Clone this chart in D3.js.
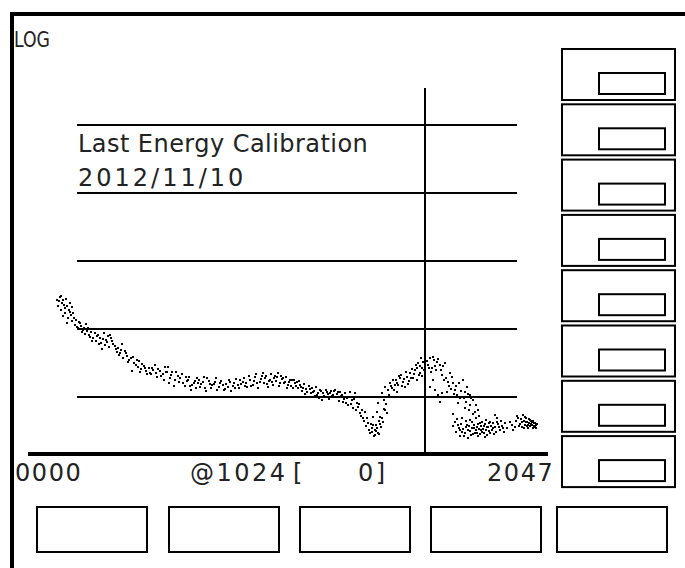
<!DOCTYPE html>
<html>
<head>
<meta charset="utf-8">
<script src="https://cdn.jsdelivr.net/npm/d3@7"></script>
<style>
  html, body { margin: 0; padding: 0; background: #fff; }
  svg { display: block; }
  text { font-family: "DejaVu Sans", Verdana, sans-serif; fill: #222; }
</style>
</head>
<body>
<svg id="screen" width="685" height="568"></svg>
<script>
// Spectrum: channel numbers and counts per dot
const channels = [
  75, 83, 88, 77, 93, 98, 108, 113, 85, 95, 90, 103, 108, 113, 101, 121, 119, 129, 134, 142,
  150, 147, 155, 160, 165, 173, 178, 186, 183, 191, 196, 201, 206, 211, 217,
  224, 232, 230, 237, 242, 250, 255, 258, 266, 273, 281, 284, 268, 289, 294, 302, 307, 315, 320,
  328, 333, 340, 348, 353, 358,
  361, 366, 371, 379, 387, 392, 400, 407, 413, 418, 423, 431, 436, 438, 444, 451, 456, 462, 469,
  475, 482, 487, 495, 503, 508, 516, 521, 529, 534, 542, 547, 554, 560, 565, 573, 580, 585, 591,
  598, 603, 611, 616, 619, 624, 629, 637, 642, 650, 655, 658, 663, 671, 676, 681, 683, 689,
  694, 696, 701, 707, 709, 714, 720, 722, 727, 735, 740, 745, 753, 758, 761, 766, 771, 779, 784,
  792, 797, 805, 810, 812, 818, 823, 825, 830, 836, 838, 843, 848, 851,
  856, 861, 864, 869, 872, 877, 879, 882, 887, 890, 892, 895, 897, 900, 903, 905, 908, 910, 916,
  921, 926, 903, 913, 918, 921, 928,
  934, 939, 941, 947, 952, 952, 957, 959, 965, 967, 972, 975, 977, 983, 985, 990, 993, 998, 1001,
  1003, 1006, 1008, 1011, 1014, 1016, 1019,
  1049, 1066, 1082, 1099, 1115, 1124, 1149, 1165, 1190, 1182, 1066, 1091, 1107, 1132, 1149, 1165,
  1207, 1224, 1249, 1257, 1274, 1249, 1290, 1307, 1340, 1357, 1373, 1398, 1298, 1315, 1357, 1398,
  1423, 1440, 1465,
  1257, 1274, 1298, 1315, 1332, 1332, 1348, 1365, 1373, 1382, 1398, 1407, 1415, 1432, 1440, 1448,
  1456, 1465, 1481, 1490, 1498, 1498, 1515, 1523, 1531, 1540, 1540, 1556, 1565, 1573, 1590, 1598,
  1606, 1623, 1631, 1648, 1664, 1681, 1689, 1706,
  1731, 1756, 1772, 1789, 1797, 1814, 1831, 1839, 1847, 1856, 1864, 1872, 1880, 1889, 1897, 1905,
  1914, 1922, 1930, 1939, 1947, 1955,
  // second pass over the same channels
  80, 85, 90, 95, 101, 106, 111, 116, 124, 126, 132, 137, 139, 144, 152, 157, 162, 168, 175, 181,
  188, 193, 199, 204, 209, 214, 219, 227, 235, 240, 245, 253, 260, 271, 279, 286, 291, 299, 304,
  312, 317, 322, 330, 335,
  343, 351, 356, 364, 369, 377, 382, 389, 397, 405, 410, 415, 420, 428, 433, 441, 446, 454, 459,
  467, 472, 480, 485, 493, 498, 506, 511, 519, 524, 531, 536, 544, 549, 557, 562, 570, 575, 583,
  588, 593, 601, 606, 609, 614, 622, 627, 632, 634, 640, 645, 647, 652, 660, 665, 668, 673, 678,
  686, 691, 699,
  704, 712, 717, 725, 730, 732, 738, 743, 748, 750, 756, 763, 769, 774, 776, 781, 787, 789, 794,
  800, 802, 807, 815, 820, 828, 833, 841, 846, 854,
  859, 866, 874, 884, 887, 890, 895, 897, 900, 905, 908, 913, 918, 923, 926, 931, 936, 944, 949,
  954, 962, 970, 980, 988, 996, 1003, 1011, 1016, 1021,
  1041, 1057, 1074, 1091, 1107, 1132, 1157, 1174, 1199, 1215, 1232, 1240, 1265, 1282, 1323, 1348,
  1365, 1382, 1390, 1407, 1423, 1448, 1473,
  1257, 1282, 1290, 1307, 1315, 1323, 1340, 1357, 1365, 1382, 1390, 1398, 1415, 1423, 1432, 1448,
  1456, 1465, 1473, 1481, 1490, 1506, 1515, 1523, 1531, 1548, 1556, 1565, 1581, 1590, 1606, 1615,
  1623, 1640, 1656, 1673,
  1748, 1781, 1806, 1822, 1831, 1847, 1856, 1864, 1872, 1880, 1889, 1897, 1905, 1914, 1922, 1930,
  1939, 1947
];
const counts = [
  2670, 2955, 2412, 2179, 2254, 2762, 2412, 2107, 1904, 1720, 1554, 1452, 1779, 1312, 1226, 1146, 1452, 1035, 1226, 968,
  1185, 844, 1035, 763, 666, 873, 789, 737, 602, 508, 873, 689, 789, 816, 666,
  562, 526, 459, 444, 602, 475, 401, 327, 375, 316, 350, 276, 241, 233, 306, 267, 218, 226, 267,
  296, 197, 241, 218, 276, 233,
  276, 191, 233, 178, 204, 191, 161, 197, 178, 145, 150, 172, 191, 161, 140, 166, 136, 191, 155,
  150, 166, 127, 161, 150, 131, 140, 166, 145, 136, 150, 178, 166, 145, 140, 178, 150, 197, 161,
  166, 204, 191, 155, 140, 178, 166, 204, 197, 161, 184, 191, 166, 150, 178, 178, 136, 161,
  166, 136, 150, 123, 136, 111, 119, 100, 131, 119, 104, 107, 127, 90, 115, 100, 119, 115, 104,
  127, 111, 119, 107, 85, 115, 97, 76, 119, 90, 69, 115, 82, 71,
  58, 64, 49, 60, 37, 41, 33, 30, 35, 51, 27, 33, 39, 60, 30, 44, 51, 36, 43,
  64, 58, 82, 115, 90, 140, 127,
  161, 136, 178, 150, 161, 119, 204, 191, 145, 166, 140, 233, 197, 172, 226, 258, 191, 250, 296,
  178, 316, 211, 226, 375, 267, 327,
  296, 375, 267, 350, 250, 327, 296, 211, 316, 178, 140, 178, 127, 107, 85, 115,
  119, 145, 197, 161, 127, 100, 107, 161, 178, 119, 140, 107, 82, 97, 69, 76,
  90, 60, 64,
  56, 43, 39, 33, 49, 31, 27, 36, 39, 33, 46, 28, 43, 35, 30, 49,
  36, 27, 41, 33, 43, 31, 37, 26, 46, 36, 28, 32, 43, 37, 35, 29,
  54, 49, 40, 33, 37, 31, 41, 35,
  43, 33, 36, 53, 49, 40, 43, 54, 35, 51, 43, 37, 39, 48, 46, 40,
  43, 35, 41, 36, 39, 40,
  // second pass
  2581, 3057, 2670, 2037, 2179, 1904, 1608, 1720, 1357, 1071, 1268, 1108, 903, 1035, 934, 816, 903, 737, 666, 816,
  623, 713, 582, 644, 544, 737, 602, 508, 415, 491, 375, 444, 350, 388, 296, 339, 258, 286, 241,
  267, 218, 250, 226, 258,
  204, 178, 233, 161, 211, 145, 233, 166, 218, 145, 172, 197, 127, 161, 136, 178, 155, 197, 123,
  172, 136, 155, 191, 140, 172, 127, 155, 178, 123, 161, 184, 136, 155, 191, 161, 204, 145, 172,
  218, 136, 184, 226, 161, 204, 172, 218, 150, 191, 172, 226, 145, 204, 161, 197, 136, 166, 145,
  178, 145, 172,
  140, 155, 131, 145, 115, 136, 123, 140, 115, 97, 123, 104, 127, 111, 94, 123, 107, 123, 100,
  119, 87, 104, 94, 82, 100, 79, 94, 64, 79,
  53, 44, 49, 40, 31, 39, 28, 32, 35, 29, 40, 49, 67, 79, 100, 107, 145, 127, 178,
  150, 211, 184, 155, 191, 218, 267, 286, 204, 250,
  339, 267, 233, 388, 286, 362, 250, 286, 191, 166, 226, 131, 111, 145, 123, 97,
  85, 111, 64, 97, 56, 76, 53,
  37, 31, 48, 35, 27, 40, 34, 30, 44, 25, 37, 32, 35, 29, 39, 33,
  30, 40, 34, 29, 37, 34, 30, 40, 33, 36, 41, 30, 33, 41, 36, 31,
  43, 36, 44, 35,
  39, 44, 37, 48, 36, 44, 39, 49, 43, 35, 41, 37, 44, 39, 44, 37,
  41, 35
];
// Log grid decades
const gridCounts = [1e2, 1e3, 1e4, 1e5, 1e6];
// Display texts
const modeLabel = "LOG";
const calibTitle = "Last Energy Calibration";
const calibDate = "2012/11/10";
const firstChannel = 0;
const lastChannel = 2047;
const cursorChannel = 1024;
const cursorCount = 0;
const sideKeys = 8;
const bottomKeys = 5;

const svg = d3.select("#screen");

// Channel axis: left half up to the cursor, right half beyond it
const x = d3.scaleLinear()
  .domain([firstChannel, cursorChannel, lastChannel])
  .range([28, 425, 548]);
const y = d3.scaleLog().domain([10, 1e6]).range([465, 125]);

// Outer screen frame
svg.append("path")
  .attr("d", "M12,570 V14 H690")
  .attr("fill", "none").attr("stroke", "#000").attr("stroke-width", 4);

// Scale mode, narrow display face
svg.append("text").attr("x", 14).attr("y", 47)
  .attr("font-size", 22).attr("textLength", 36).attr("lengthAdjust", "spacingAndGlyphs")
  .text(modeLabel);

// Grid decades
svg.append("g").selectAll("line").data(gridCounts).join("line")
  .attr("x1", 77).attr("x2", 517)
  .attr("y1", d => y(d)).attr("y2", d => y(d))
  .attr("stroke", "#000").attr("stroke-width", 2);

// Calibration note
svg.append("text").attr("x", 78).attr("y", 152)
  .attr("font-size", 24).attr("letter-spacing", 0.45).text(calibTitle);
svg.append("text").attr("x", 78).attr("y", 186)
  .attr("font-size", 24).attr("letter-spacing", 3).text(calibDate);

// Cursor
svg.append("line")
  .attr("x1", x(cursorChannel)).attr("x2", x(cursorChannel))
  .attr("y1", 88).attr("y2", 453)
  .attr("stroke", "#000").attr("stroke-width", 2);

// Spectrum dots
const pts = channels.map((c, i) => [c, counts[i]]);
svg.append("g").selectAll("rect").data(pts).join("rect")
  .attr("x", d => Math.round(x(d[0])) - 1)
  .attr("y", d => Math.round(y(d[1])) - 1)
  .attr("width", 2).attr("height", 2)
  .attr("fill", "#000");

// Baseline
svg.append("line")
  .attr("x1", x(firstChannel)).attr("x2", x(lastChannel))
  .attr("y1", 454).attr("y2", 454)
  .attr("stroke", "#000").attr("stroke-width", 4);

// Channel readouts
const pad4 = n => String(n).padStart(4, "0");
const readout = (px, str, ls) => svg.append("text").attr("x", px).attr("y", 481)
  .attr("font-size", 24).attr("letter-spacing", ls).text(str);
readout(15, pad4(firstChannel), 1.6);
readout(190, "@" + cursorChannel, 2.5);
readout(293, "[", 0);
readout(358, cursorCount + "]", 2.5);
readout(487, pad4(lastChannel), 1.6);

// Side soft keys
const side = svg.append("g").selectAll("g").data(d3.range(sideKeys)).join("g")
  .attr("transform", i => `translate(562,${49 + i * 55.3})`);
side.append("rect").attr("width", 113).attr("height", 51)
  .attr("fill", "none").attr("stroke", "#000").attr("stroke-width", 2);
side.append("rect").attr("x", 37).attr("y", 24).attr("width", 66).attr("height", 21)
  .attr("fill", "none").attr("stroke", "#000").attr("stroke-width", 2);

// Bottom soft keys
const bx = [37, 169, 300, 431, 557];
svg.append("g").selectAll("rect").data(d3.range(bottomKeys)).join("rect")
  .attr("x", i => bx[i]).attr("y", 507)
  .attr("width", 110).attr("height", 45)
  .attr("fill", "none").attr("stroke", "#000").attr("stroke-width", 2);
</script>
</body>
</html>
